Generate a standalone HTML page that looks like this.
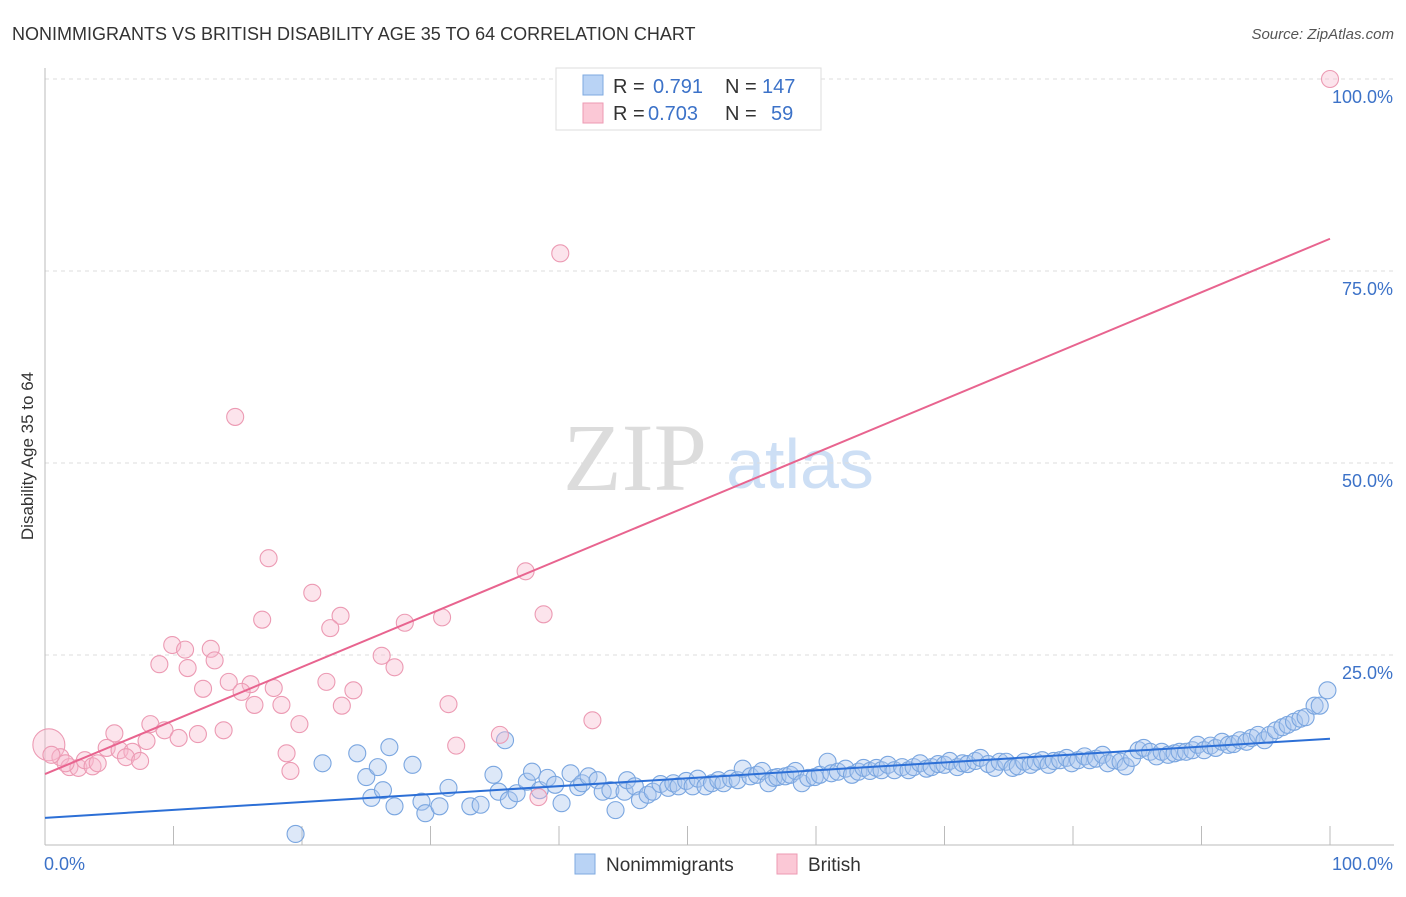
<!DOCTYPE html>
<html><head><meta charset="utf-8"><style>
body{margin:0;background:#fff;font-family:"Liberation Sans",sans-serif;}
svg text{font-family:"Liberation Sans",sans-serif;}
svg text.serif{font-family:"Liberation Serif",serif;}
</style></head><body>
<svg id="chart" width="1406" height="892" xmlns="http://www.w3.org/2000/svg">
<text x="12" y="40" font-size="18" fill="#333">NONIMMIGRANTS VS BRITISH DISABILITY AGE 35 TO 64 CORRELATION CHART</text>
<text x="1394" y="39" font-size="15" fill="#555" font-style="italic" text-anchor="end">Source: ZipAtlas.com</text>
<text x="33" y="456" font-size="17" fill="#333" text-anchor="middle" transform="rotate(-90 33 456)">Disability Age 35 to 64</text>
<g><text class="serif" x="635" y="490" font-size="96" fill="#dcdcdc" text-anchor="middle">ZIP</text><text x="800" y="488" font-size="70" fill="#cddff5" text-anchor="middle">atlas</text></g>
<g id="grid"></g><g id="axes"></g><g id="marks"></g>
<g>
<rect x="556" y="68" width="265" height="62" fill="#fff" stroke="#ddd"/>
<rect x="583" y="75" width="20" height="20" fill="#b9d3f5" stroke="#7ea9e0"/>
<text x="613" y="93" font-size="20" fill="#333">R =</text><text x="653" y="93" font-size="20" fill="#3c72c8">0.791</text>
<text x="725" y="93" font-size="20" fill="#333">N =</text><text x="762" y="93" font-size="20" fill="#3c72c8">147</text>
<rect x="583" y="103" width="20" height="20" fill="#fbc8d6" stroke="#ec9ab3"/>
<text x="613" y="120" font-size="20" fill="#333">R =</text><text x="648" y="120" font-size="20" fill="#3c72c8">0.703</text>
<text x="725" y="120" font-size="20" fill="#333">N =</text><text x="771" y="120" font-size="20" fill="#3c72c8">59</text>
</g>
<g>
<rect x="575" y="854" width="20" height="20" fill="#b9d3f5" stroke="#7ea9e0"/>
<text x="606" y="871" font-size="19" fill="#333">Nonimmigrants</text>
<rect x="777" y="854" width="20" height="20" fill="#fbc8d6" stroke="#ec9ab3"/>
<text x="808" y="871" font-size="19" fill="#333">British</text>
</g>
</svg>
<script>
const blueX=[19.5,21.6,24.3,25.0,25.4,25.9,26.3,26.8,27.2,28.6,29.3,29.6,30.7,31.4,33.1,33.9,34.9,35.3,35.8,36.1,36.7,37.5,37.9,38.5,39.1,39.7,40.2,40.9,41.5,41.8,42.3,43.0,43.4,44.0,44.4,45.1,45.3,45.9,46.3,46.9,47.3,47.9,48.5,48.9,49.3,49.9,50.4,50.8,51.4,51.9,52.4,52.8,53.4,53.9,54.3,54.9,55.4,55.8,56.3,56.7,57.0,57.6,58.0,58.4,58.9,59.4,59.9,60.3,60.9,61.2,61.7,62.3,62.8,63.3,63.7,64.2,64.7,65.1,65.6,66.1,66.7,67.2,67.6,68.1,68.6,69.0,69.5,70.0,70.4,71.0,71.4,71.8,72.4,72.8,73.4,73.9,74.3,74.8,75.3,75.7,76.2,76.7,77.1,77.6,78.1,78.5,79.0,79.5,79.9,80.4,80.9,81.3,81.8,82.3,82.7,83.2,83.7,84.1,84.6,85.1,85.5,86.0,86.5,86.9,87.4,87.9,88.3,88.8,89.3,89.7,90.2,90.7,91.1,91.6,92.1,92.5,93.0,93.5,93.9,94.4,94.9,95.3,95.8,96.3,96.7,97.2,97.7,98.1,98.8,99.2,99.8];
const blueY=[1.7,10.9,12.2,9.1,6.4,10.4,7.4,13.0,5.3,10.7,5.9,4.4,5.3,7.7,5.3,5.5,9.4,7.2,13.9,6.1,7.0,8.5,9.8,7.4,9.0,8.1,5.7,9.6,7.8,8.3,9.2,8.7,7.2,7.4,4.8,7.2,8.7,7.9,6.1,6.8,7.2,8.2,7.7,8.3,7.9,8.6,7.9,8.9,7.9,8.3,8.7,8.3,8.9,8.7,10.2,9.2,9.4,9.9,8.3,9.0,9.1,9.2,9.4,9.9,8.3,9.0,9.1,9.4,11.1,9.6,9.8,10.2,9.4,9.8,10.3,9.9,10.3,10.0,10.7,10.0,10.4,10.0,10.4,10.9,10.2,10.4,10.8,10.7,11.2,10.4,10.9,10.8,11.2,11.6,10.8,10.3,11.1,11.1,10.3,10.5,11.1,10.7,11.1,11.3,10.7,11.2,11.3,11.6,10.9,11.3,11.8,11.3,11.5,12.0,10.9,11.3,11.1,10.5,11.6,12.6,12.9,12.4,11.8,12.4,12.0,12.2,12.4,12.4,12.6,13.3,12.6,13.2,12.9,13.7,13.3,13.4,13.9,13.7,14.2,14.6,13.9,14.6,15.2,15.6,15.9,16.3,16.7,16.9,18.4,18.4,20.4];
const pinkX=[100,40.1,14.8,17.4,20.8,23.0,16.9,22.2,28.0,30.9,37.4,38.8,9.9,10.9,12.9,13.2,8.9,11.1,26.2,27.2,12.3,14.3,16.0,17.8,21.9,24.0,15.3,16.3,18.4,23.1,31.4,8.2,9.3,10.4,11.9,13.9,19.8,5.4,7.9,4.8,5.8,6.8,6.3,7.4,18.8,32.0,35.4,42.6,19.1,38.4,0.3,1.2,1.9,2.6,3.1,3.7,4.1,1.6,0.5];
const pinkY=[100,77.3,56.0,37.6,33.1,30.1,29.6,28.5,29.2,29.9,35.9,30.3,26.3,25.7,25.8,24.3,23.8,23.3,24.9,23.4,20.6,21.5,21.2,20.7,21.5,20.4,20.2,18.5,18.5,18.4,18.6,16.0,15.2,14.2,14.7,15.2,16.0,14.8,13.8,12.9,12.6,12.4,11.7,11.2,12.2,13.2,14.6,16.5,9.9,6.5,13.3,11.7,10.4,10.3,11.3,10.5,10.9,10.9,12.0];
const blueTrend=[3.8,14.1];
const pinkTrend=[9.5,79.2];
const yTicks=[25,50,75,100];
const yTickLabels=["25.0%","50.0%","75.0%","100.0%"];
const xTicks=[0,10,20,30,40,50,60,70,80,90,100];
const NS="http://www.w3.org/2000/svg";
const sx=v=>45+v*12.85, sy=v=>847-v*7.68;
function mk(tag,attrs,parent){const e=document.createElementNS(NS,tag);for(const k in attrs)e.setAttribute(k,attrs[k]);document.getElementById(parent).appendChild(e);return e;}
yTicks.forEach((t,i)=>{
 const g=mk('line',{x1:45,x2:1394,y1:sy(t),y2:sy(t),stroke:'#ddd','stroke-dasharray':'4,4'},'grid');
 
 
 const l=mk('text',{x:1393,y:sy(t)+24,'font-size':18,fill:'#3c72c8','text-anchor':'end'},'axes');l.textContent=yTickLabels[i];
 
 
});
mk('line',{x1:45,x2:45,y1:68,y2:845,stroke:'#bbb'},'axes');
mk('line',{x1:45,x2:1394,y1:845,y2:845,stroke:'#bbb'},'axes');
xTicks.forEach(t=>{const e=mk('line',{x1:sx(t),x2:sx(t),y1:826,y2:845,stroke:'#bbb'},'axes');
 
 });
const x0=mk('text',{x:44,y:870,'font-size':18,fill:'#3c72c8'},'axes');x0.textContent='0.0%';


const x1=mk('text',{x:1393,y:870,'font-size':18,fill:'#3c72c8','text-anchor':'end'},'axes');x1.textContent='100.0%';


blueX.forEach((x,i)=>{const c=mk('circle',{cx:sx(x),cy:sy(blueY[i]),r:8.5,fill:'rgba(169,198,238,0.4)',stroke:'#7aa6e0','stroke-width':1.1},'marks');
 
 });
pinkX.forEach((x,i)=>{const c=mk('circle',{cx:sx(x),cy:sy(pinkY[i]),r:i==50?16:8.5,fill:'rgba(248,184,204,0.38)',stroke:'#ec9ab3','stroke-width':1.1},'marks');
 
 });
const bl=mk('line',{x1:sx(0),x2:sx(100),y1:sy(blueTrend[0]),y2:sy(blueTrend[1]),stroke:'#2c6fd6','stroke-width':2},'marks');


const pl=mk('line',{x1:sx(0),x2:sx(100),y1:sy(pinkTrend[0]),y2:sy(pinkTrend[1]),stroke:'#e8648f','stroke-width':2},'marks');


</script>
</body></html>
